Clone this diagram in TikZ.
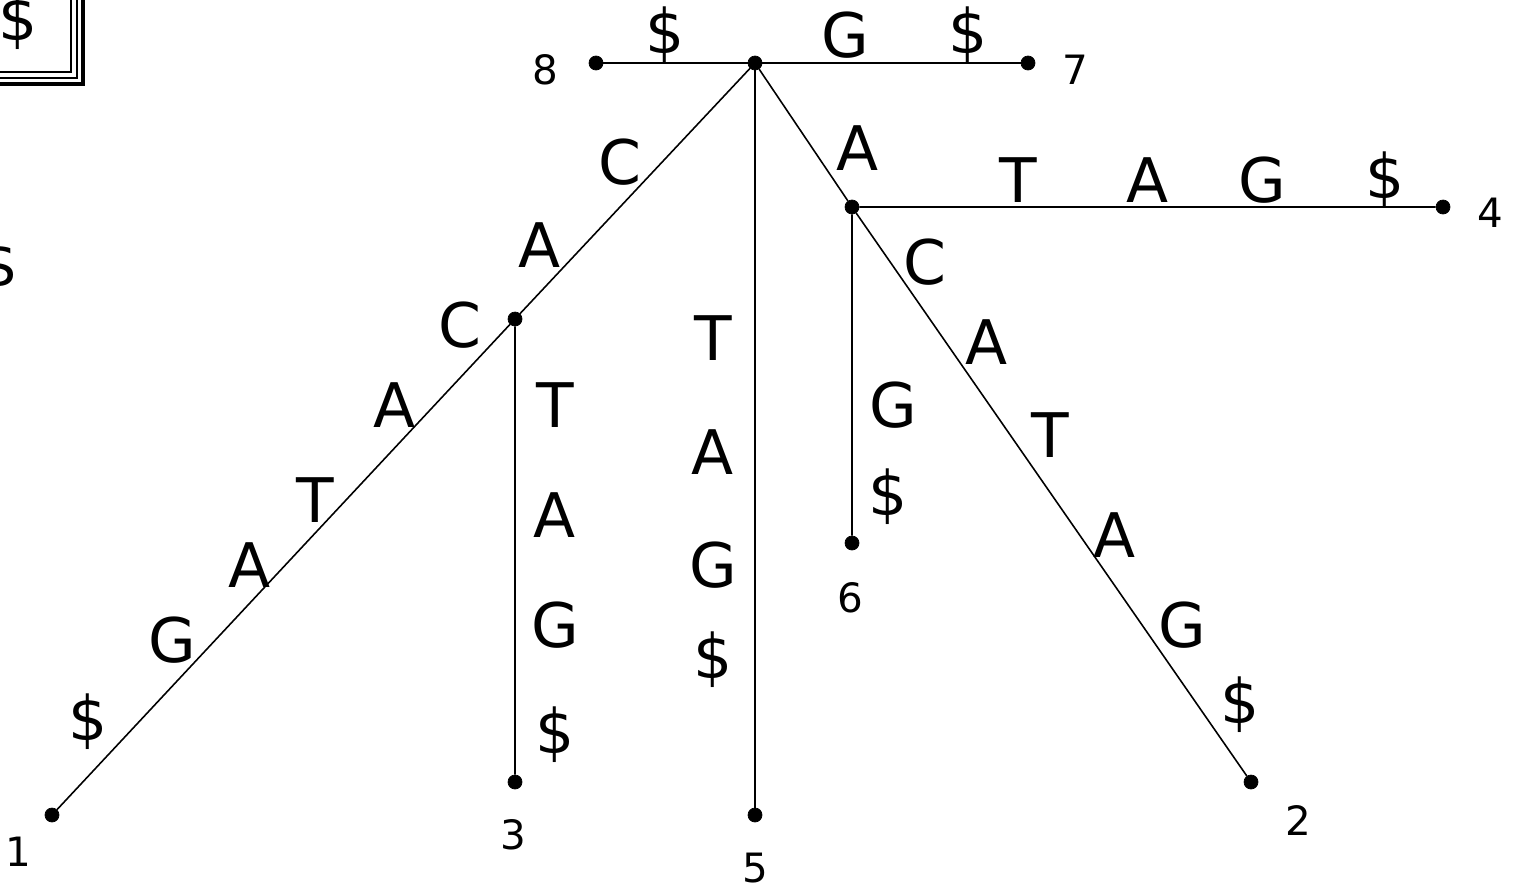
\documentclass[tikz,border=0pt]{standalone}
\usepackage{fontspec}
\setmainfont{DejaVu Sans}
\tikzstyle{vertex}=[circle, draw, fill=black, inner sep=0pt, minimum size=0.28cm]
\tikzstyle{edge}=[line width=0.9pt,black]
\tikzstyle{sym}=[inner sep=0pt, font=\fontsize{35}{40}\selectfont]
\tikzstyle{leaf}=[inner sep=0pt, font=\fontsize{23}{28}\selectfont]
\tikzstyle{frame}=[line width=1.2pt]

\begin{document}
\begin{tikzpicture}[x=0.02cm, y=-0.02cm]
			\clip (0,0) rectangle (1515,886);
			\useasboundingbox (0,0) rectangle (1515,886);

			% Boxed end marker, corner only
			\draw[frame] (-60,-60) rectangle (71,72);
			\draw[frame] (-60,-60) rectangle (77,78);
			\draw[frame,line width=2.2pt] (-60,-60) rectangle (83,84);
			\node[sym] (box) at (18,22) {\$};
			\node[sym] (side) at (-1,268) {\$};

			\node[vertex] (r) at (755, 63) {};
			\node[vertex] (8) at (596, 63) {};
			\node[vertex] (7) at (1028, 63) {};
			\node[vertex] (a) at (852, 207) {};
			\node[vertex] (4) at (1443, 207) {};
			\node[vertex] (c) at (515, 319) {};
			\node[vertex] (1) at (52, 815) {};
			\node[vertex] (3) at (515, 782) {};
			\node[vertex] (5) at (755, 815) {};
			\node[vertex] (6) at (852, 543) {};
			\node[vertex] (2) at (1251, 782) {};

			% Edges
			\draw[edge] (r)--(8) (r)--(7);
			\draw[edge] (r)--(c) (c)--(1) (c)--(3);
			\draw[edge] (r)--(5);
			\draw[edge] (r)--(a) (a)--(4) (a)--(6) (a)--(2);

			% Leaf numbers
			\node[leaf] (n8) at (545, 70) {8};
			\node[leaf] (n7) at (1075, 70) {7};
			\node[leaf] (n4) at (1490, 213) {4};
			\node[leaf] (n1) at (18, 852) {1};
			\node[leaf] (n3) at (513, 835) {3};
			\node[leaf] (n5) at (755, 868) {5};
			\node[leaf] (n6) at (850, 598) {6};
			\node[leaf] (n2) at (1298, 820) {2};

			% Top
			\node[sym] (t1) at (665, 35) {\$};
			\node[sym] (t2) at (845, 35) {G};
			\node[sym] (t3) at (968, 35) {\$};
			% Left branch
			\node[sym] (l1) at (620, 162) {C};
			\node[sym] (l2) at (540, 245) {A};
			\node[sym] (l3) at (460, 325) {C};
			\node[sym] (l4) at (395, 405) {A};
			\node[sym] (l5) at (315, 500) {T};
			\node[sym] (l6) at (250, 565) {A};
			\node[sym] (l7) at (172, 640) {G};
			\node[sym] (l8) at (88, 722) {\$};
			\node[sym] (m1) at (555, 405) {T};
			\node[sym] (m2) at (555, 515) {A};
			\node[sym] (m3) at (555, 625) {G};
			\node[sym] (m4) at (555, 735) {\$};
			% Middle
			\node[sym] (v1) at (713, 338) {T};
			\node[sym] (v2) at (713, 452) {A};
			\node[sym] (v3) at (713, 565) {G};
			\node[sym] (v4) at (713, 660) {\$};
			% Right branch
			\node[sym] (a0) at (858, 148) {A};
			\node[sym] (h1) at (1018, 180) {T};
			\node[sym] (h2) at (1148, 180) {A};
			\node[sym] (h3) at (1262, 180) {G};
			\node[sym] (h4) at (1385, 180) {\$};
			\node[sym] (g1) at (893, 405) {G};
			\node[sym] (g2) at (888, 497) {\$};
			\node[sym] (d1) at (925, 262) {C};
			\node[sym] (d2) at (987, 342) {A};
			\node[sym] (d3) at (1050, 435) {T};
			\node[sym] (d4) at (1115, 535) {A};
			\node[sym] (d5) at (1182, 625) {G};
			\node[sym] (d6) at (1240, 705) {\$};
		\end{tikzpicture}
\end{document}
